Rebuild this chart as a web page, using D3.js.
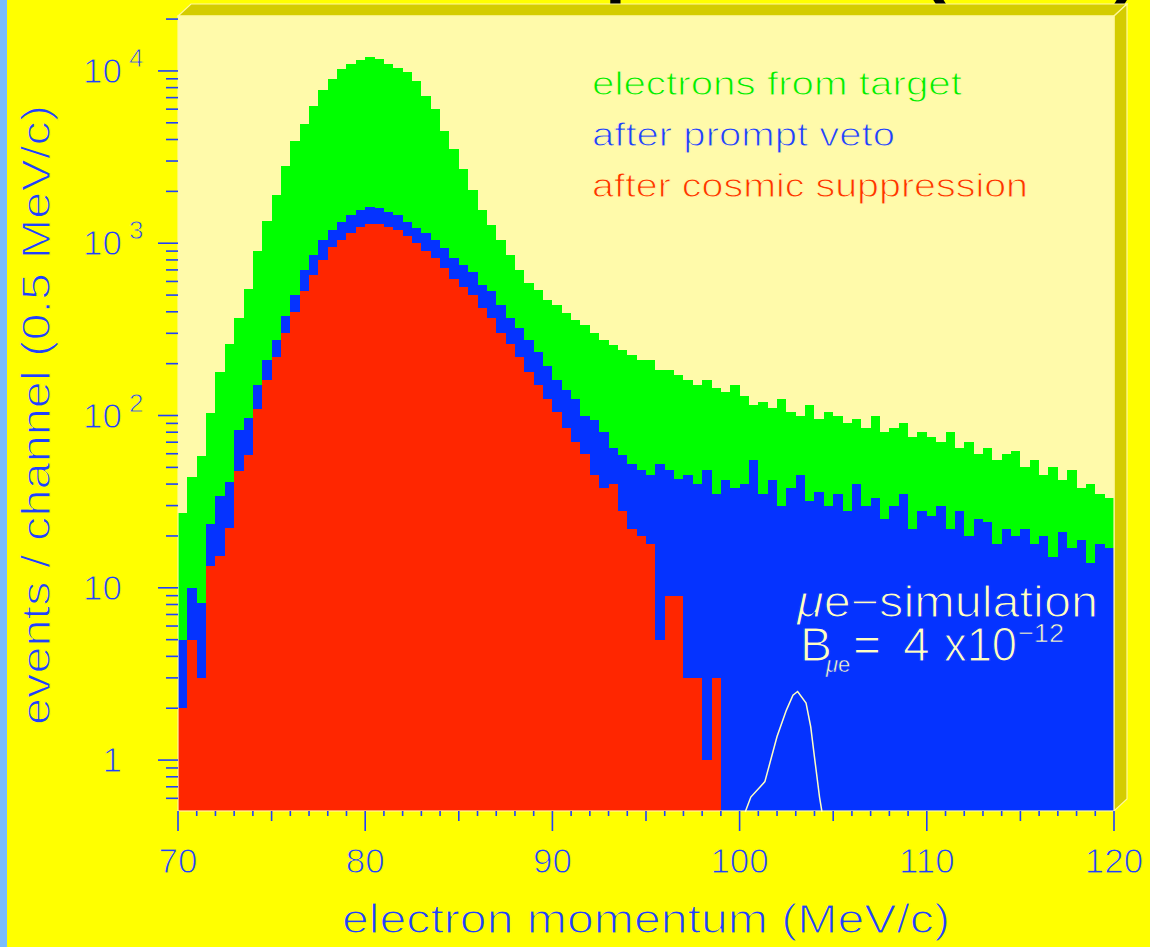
<!DOCTYPE html>
<html><head><meta charset="utf-8">
<script src="https://cdn.jsdelivr.net/npm/d3@7"></script>
<style>html,body{margin:0;padding:0;background:#ffff00;}svg{display:block;}</style>
</head><body>
<svg id="chart" width="1150" height="947"></svg>
<script>
// ---------------- data ----------------
const binStart = 70, binWidth = 0.5;
const green = [27,44,58,104,180,260,370,540,900,1350,1900,2800,3900,4900,6300,7700,9000,10300,11000,11500,
  12000,11700,11000,10400,9800,8800,7200,6000,4500,3500,2700,2050,1560,1270,1050,850,700,590,535,470,
  440,395,360,335,300,275,255,240,225,210,210,183,183,172,160,150,160,145,137,150,
  130,115,120,110,125,105,100,115,95,105,100,90,95,85,100,80,85,90,75,80,
  75,70,80,65,70,60,65,55,60,62,50,55,45,50,42,48,38,40,35,33];
const blue = [5,10,8.2,23.4,34.2,41.3,82.4,96.4,150,210,275,380,500,700,850,1050,1200,1320,1450,1550,
  1620,1600,1520,1450,1320,1230,1140,1050,940,820,750,680,570,525,440,370,320,275,235,195,
  160,140,125,100,94,80,65,59,52,48,45,52,48,43,45,40,48,35,42,38,
  40,55,35,42,30,38,45,32,36,30,35,28,40,30,33,25,30,35,22,28,
  26,30,22,28,20,25,24,18,22,20,22,18,20,15,21,17,19,14,18,17];
const red = [2,5,3,13.4,15.3,22.3,47.8,59,109,160,220,300,400,530,650,800,950,1050,1150,1250,
  1300,1300,1250,1200,1100,1000,900,820,720,620,560,500,420,370,300,260,220,180,150,125,
  105,85,70,60,45,38,40,28,22,20,18,5,9,9,3,3,1,3,0,0];
const simX = [100.3,100.6,101.35,102.0,102.5,102.85,103.1,103.55,103.8,104.0,104.27,104.4];
const simY = [0.5,0.61,0.75,1.37,1.95,2.38,2.5,2.14,1.56,1.04,0.61,0.5];
const xTicksMajor = [70,80,90,100,110,120];
const yDecades = [1,10,100,1000,10000];
const yDecadeExp = ["","","2","3","4"];
const yDecadeBase = ["1","10","10","10","10"];
const legendLabels = ["electrons from target","after prompt veto","after cosmic suppression"];

// ---------------- layout ----------------
const svg = d3.select("#chart");
const L = 178, R = 1114, T = 16, B = 811, DX = 13, DY = 12;
const axisBlue = "#1f40ff", bgYellow = "#ffff00", plotBg = "#fffaaa", blueFill = "#0533ff";
const font = "'Liberation Sans', Arial, sans-serif";
const x = d3.scaleLinear().domain([70,120]).range([L,R]);
const y = d3.scaleLog().domain([0.5064, 20840]).range([B,T]);

// thin the glyph strokes by painting a background-coloured outline over them
function thin(sel, bg, w){ return sel.attr("stroke",bg).attr("stroke-width",w||1.0).attr("stroke-linejoin","round"); }

svg.append("rect").attr("width",1150).attr("height",947).attr("fill",bgYellow);
svg.append("rect").attr("x",0).attr("y",0).attr("width",7).attr("height",947).attr("fill","#78bcff");

// partially visible title (cut off at top)
svg.append("text").attr("x",234).attr("y",-10).attr("font-family",font).attr("font-weight","bold")
  .attr("font-size",75).attr("fill","#000").text("Electron Spectrum (1993)");

// 3D frame faces
const olive = "#d4cc00", edge = "#fff8a0";
svg.append("polygon").attr("points",`${L},${T} ${L+DX},${T-DY} ${R+DX},${T-DY} ${R},${T}`)
  .attr("fill",olive).attr("stroke",edge).attr("stroke-width",1.2);
svg.append("polygon").attr("points",`${R},${T} ${R+DX},${T-DY} ${R+DX},${B-DY} ${R},${B}`)
  .attr("fill",olive).attr("stroke",edge).attr("stroke-width",1.2);
svg.append("rect").attr("x",L).attr("y",T).attr("width",R-L).attr("height",B-T).attr("fill",plotBg);

// histograms
function histPath(vals){
  const pts = vals.map((v,i)=>[binStart+i*binWidth, v]);
  pts.push([binStart+vals.length*binWidth, vals[vals.length-1]]);
  const yv = v => v>0.5064 ? y(v) : B;
  return d3.area().curve(d3.curveStepAfter).x(d=>x(d[0])).y0(B).y1(d=>yv(d[1]))(pts);
}
[[green,"#00ff00"],[blue,blueFill],[red,"#ff2600"]].forEach(([vals,col])=>{
  svg.append("path").attr("d",histPath(vals)).attr("fill",col).attr("shape-rendering","crispEdges");
});

// front face outline
svg.append("rect").attr("x",L).attr("y",T).attr("width",R-L).attr("height",B-T)
  .attr("fill","none").attr("stroke",edge).attr("stroke-width",1.2);

// simulation curve
svg.append("path").datum(simX.map((v,i)=>[v,simY[i]]))
  .attr("d",d3.line().x(d=>x(d[0])).y(d=>y(d[1])))
  .attr("fill","none").attr("stroke","#ffffc0").attr("stroke-width",1.5);

// x axis ticks
const gx = svg.append("g").attr("stroke",axisBlue).attr("stroke-width",1.6);
d3.range(70,120.001,1).forEach(v=>{
  const len = v%10===0 ? 20 : (v%5===0 ? 10 : 5);
  gx.append("line").attr("x1",x(v)).attr("x2",x(v)).attr("y1",B).attr("y2",B+len);
});
thin(svg.selectAll(".xl").data(xTicksMajor).enter().append("text")
  .attr("x",d=>x(d)).attr("y",873).attr("text-anchor","middle")
  .attr("font-family",font).attr("font-size",35).attr("fill",axisBlue).text(d=>d), bgYellow);

// y axis ticks
const gy = svg.append("g").attr("stroke",axisBlue).attr("stroke-width",1.6);
[-1,0,1,2,3,4].forEach(e=>{
  for(let k=1;k<=9;k++){
    const v = k*Math.pow(10,e);
    if(v<y.domain()[0]-1e-9 || v>y.domain()[1]) continue;
    const len = k===1 ? 20 : 12;
    gy.append("line").attr("x1",L-len).attr("x2",L).attr("y1",y(v)).attr("y2",y(v));
  }
});
yDecades.forEach((v,i)=>{
  thin(svg.append("text").attr("x",122).attr("y",y(v)+12).attr("text-anchor","end")
    .attr("font-family",font).attr("font-size",35).attr("fill",axisBlue).text(yDecadeBase[i]), bgYellow);
  if(yDecadeExp[i]) thin(svg.append("text").attr("x",129).attr("y",y(v)-4)
    .attr("font-family",font).attr("font-size",26).attr("fill",axisBlue).text(yDecadeExp[i]), bgYellow, 0.8);
});

// axis titles
thin(svg.append("text").attr("x",646).attr("y",933).attr("text-anchor","middle")
  .attr("font-family",font).attr("font-size",40).attr("fill",axisBlue)
  .attr("textLength",608).attr("lengthAdjust","spacingAndGlyphs").text("electron momentum (MeV/c)"), bgYellow, 1.2);
thin(svg.append("text").attr("transform","translate(50,415) rotate(-90)").attr("text-anchor","middle")
  .attr("font-family",font).attr("font-size",40).attr("fill",axisBlue)
  .attr("textLength",620).attr("lengthAdjust","spacingAndGlyphs").text("events / channel (0.5 MeV/c)"), bgYellow, 1.2);

// legend
const legCols = ["#00ee00","#1f40ff","#ff3300"], legW=[370,303,436], legY=[95,146,197];
legendLabels.forEach((t,i)=>{
  thin(svg.append("text").attr("x",592).attr("y",legY[i]).attr("font-family",font).attr("font-size",34)
    .attr("fill",legCols[i]).attr("textLength",legW[i]).attr("lengthAdjust","spacingAndGlyphs").text(t), plotBg, 1.0);
});

// simulation annotation
const simCol = "#ffffc0";
const ann = svg.append("g").attr("fill",simCol).attr("font-family",font)
  .attr("stroke",blueFill).attr("stroke-width",1.2).attr("stroke-linejoin","round");
ann.append("text").attr("x",797).attr("y",617).attr("font-size",44)
  .attr("textLength",301).attr("lengthAdjust","spacingAndGlyphs").html("<tspan font-style='italic'>μ</tspan>e−simulation");
ann.append("text").attr("x",800).attr("y",661).attr("font-size",48).text("B");
ann.append("text").attr("x",826).attr("y",672).attr("font-size",22).attr("stroke-width",0.5)
  .html("<tspan font-style='italic'>μ</tspan>e");
ann.append("text").attr("x",853).attr("y",661).attr("font-size",48).text("=");
ann.append("text").attr("x",903).attr("y",661).attr("font-size",48).text("4");
ann.append("text").attr("x",944).attr("y",661).attr("font-size",48)
  .attr("textLength",73).attr("lengthAdjust","spacingAndGlyphs").text("x10");
ann.append("text").attr("x",1018).attr("y",642).attr("font-size",26).attr("stroke-width",0.7)
  .attr("textLength",46).attr("lengthAdjust","spacingAndGlyphs").text("−12");
</script>
</body></html>
